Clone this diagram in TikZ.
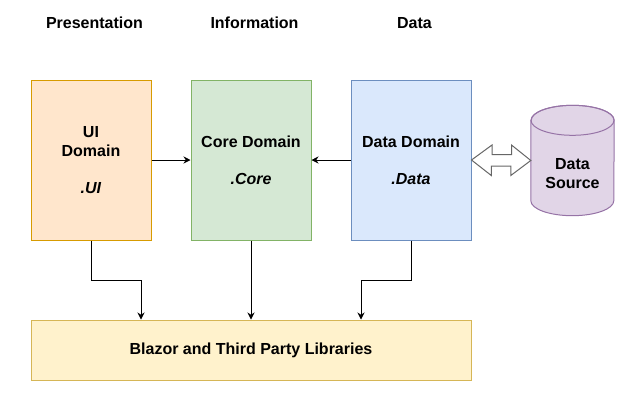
\documentclass[tikz,border=0pt]{standalone}
\usepackage{fontspec}
\setmainfont{Liberation Sans}
\usepackage{tikz}
\usetikzlibrary{calc}
\usetikzlibrary{arrows.meta}
\definecolor{uifill}{HTML}{FFE6CC}
\definecolor{uiline}{HTML}{D79B00}
\definecolor{corefill}{HTML}{D5E8D4}
\definecolor{coreline}{HTML}{82B366}
\definecolor{datafill}{HTML}{DAE8FC}
\definecolor{dataline}{HTML}{6C8EBF}
\definecolor{srcfill}{HTML}{E1D5E7}
\definecolor{srcline}{HTML}{9673A6}
\definecolor{libfill}{HTML}{FFF2CC}
\definecolor{libline}{HTML}{D6B656}
\tikzset{>={Stealth[length=7pt,width=7pt]}}
\tikzset{layer/.style = {shape=rectangle,draw,line width=1pt,minimum width=120pt,minimum height=160pt,align=center,inner sep=0pt}}
\tikzset{title/.style = {font=\fontsize{16}{19}\selectfont\bfseries}}
\tikzset{arr/.style = {->,line width=0.8pt,black}}

\begin{document}
\begin{tikzpicture}[x=1pt,y=1pt,font=\fontsize{16}{19}\selectfont\bfseries]
                    \useasboundingbox (0,0) rectangle (635,-400);

                    \node[title] (pres) at (94.5,-23) {Presentation};
                    \node[title] (info) at (254.5,-23) {Information};
                    \node[title] (dat) at (414.5,-23) {Data};

                    \node[layer,fill=uifill,draw=uiline] (ui) at (91,-160) {UI\\Domain\\[18pt]\textit{.UI}};
                    \node[layer,fill=corefill,draw=coreline] (core) at (251,-160) {Core Domain\\[18pt]\textit{.Core}};
                    \node[layer,fill=datafill,draw=dataline] (data) at (411,-160) {Data Domain\\[18pt]\textit{.Data}};
                    \node[layer,fill=libfill,draw=libline,minimum width=440pt,minimum height=60pt] (lib) at (251,-350) {Blazor and Third Party Libraries};

                    \node[minimum width=83pt,minimum height=110pt,inner sep=0pt] (src) at (572.5,-160.5) {};
                    \draw[fill=srcfill,draw=srcline,line width=1pt] (src.north west) ++(0,-15) -- ($(src.south west)+(0,15)$)
                        arc[start angle=180,end angle=360,x radius=41.5,y radius=15] -- ($(src.north east)+(0,-15)$)
                        arc[start angle=0,end angle=180,x radius=41.5,y radius=15] -- cycle;
                    \draw[srcline,line width=1pt] ($(src.north)+(0,-15)$) ellipse (41.5 and 15);
                    \node[align=center] (srctext) at (572.5,-174) {Data\\Source};

                    \draw[arr] (ui.east) -- (core.west);
                    \draw[arr] (data.west) -- (core.east);
                    \draw[black!60,fill=white,line width=1pt] (data.east) -- ++(20.5,15) -- ++(0,-9.5) -- ++(19.5,0) -- ++(0,9.5)
                        -- (src.west) -- ++(-20,-15) -- ++(0,9.5) -- ++(-19.5,0) -- ++(0,-9.5) -- cycle;

                    \draw[arr] (ui.south) -- ++(0,-40) -| ($(lib.north)+(-110,0)$);
                    \draw[arr] (core.south) -- (lib.north);
                    \draw[arr] (data.south) -- ++(0,-40) -| ($(lib.north)+(110,0)$);
                \end{tikzpicture}
\end{document}
